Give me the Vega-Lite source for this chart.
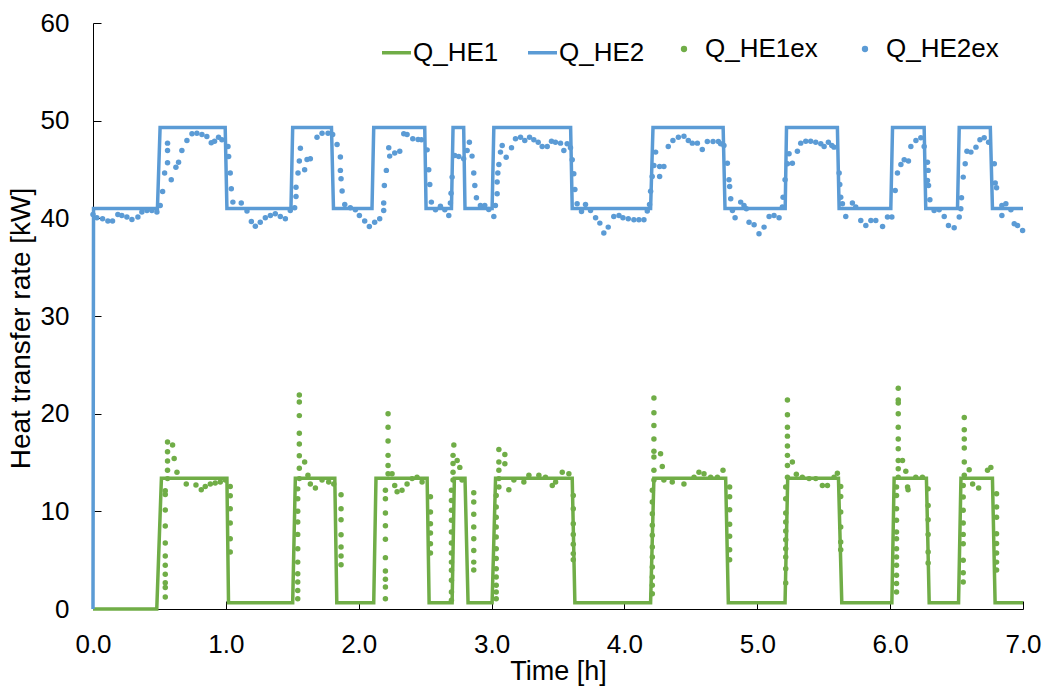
{
"$schema": "https://vega.github.io/schema/vega-lite/v6.json",
"width": 930, "height": 586,
"autosize": {"type": "none"},
"padding": {"left": 93, "top": 23, "right": 23, "bottom": 80},
"background": "white",
"config": {
  "view": {"stroke": null},
  "font": "Liberation Sans",
  "axis": {"grid": false, "domainColor": "black", "tickColor": "black", "labelColor": "black", "titleColor": "black",
    "labelFont": "Liberation Sans", "titleFont": "Liberation Sans", "labelFontSize": 26, "titleFontSize": 27, "titleFontWeight": "normal",
    "tickSize": -8, "labelPadding": 32, "domainWidth": 1, "tickWidth": 1, "labelFlush": false, "labelOverlap": false},
  "legend": {"labelFont": "Liberation Sans", "labelFontSize": 26, "labelColor": "black"}
},
"datasets": {
  "lines": [
    {"t":0,"q":0,"series":"Q_HE1"},{"t":0.48,"q":0,"series":"Q_HE1"},{"t":0.515,"q":13.4,"series":"Q_HE1"},{"t":1.008,"q":13.4,"series":"Q_HE1"},{"t":1.02,"q":0.65,"series":"Q_HE1"},{"t":1.503,"q":0.65,"series":"Q_HE1"},{"t":1.523,"q":13.4,"series":"Q_HE1"},{"t":1.82,"q":13.4,"series":"Q_HE1"},{"t":1.835,"q":0.65,"series":"Q_HE1"},{"t":2.113,"q":0.65,"series":"Q_HE1"},{"t":2.13,"q":13.4,"series":"Q_HE1"},{"t":2.515,"q":13.4,"series":"Q_HE1"},{"t":2.53,"q":0.65,"series":"Q_HE1"},{"t":2.703,"q":0.65,"series":"Q_HE1"},{"t":2.72,"q":13.4,"series":"Q_HE1"},{"t":2.8,"q":13.4,"series":"Q_HE1"},{"t":2.823,"q":0.65,"series":"Q_HE1"},{"t":3.004,"q":0.65,"series":"Q_HE1"},{"t":3.03,"q":13.4,"series":"Q_HE1"},{"t":3.607,"q":13.4,"series":"Q_HE1"},{"t":3.627,"q":0.65,"series":"Q_HE1"},{"t":4.197,"q":0.65,"series":"Q_HE1"},{"t":4.222,"q":13.4,"series":"Q_HE1"},{"t":4.762,"q":13.4,"series":"Q_HE1"},{"t":4.782,"q":0.65,"series":"Q_HE1"},{"t":5.209,"q":0.65,"series":"Q_HE1"},{"t":5.229,"q":13.4,"series":"Q_HE1"},{"t":5.611,"q":13.4,"series":"Q_HE1"},{"t":5.636,"q":0.65,"series":"Q_HE1"},{"t":6.013,"q":0.65,"series":"Q_HE1"},{"t":6.03,"q":13.4,"series":"Q_HE1"},{"t":6.273,"q":13.4,"series":"Q_HE1"},{"t":6.294,"q":0.65,"series":"Q_HE1"},{"t":6.515,"q":0.65,"series":"Q_HE1"},{"t":6.533,"q":13.4,"series":"Q_HE1"},{"t":6.77,"q":13.4,"series":"Q_HE1"},{"t":6.79,"q":0.65,"series":"Q_HE1"},{"t":7.0,"q":0.65,"series":"Q_HE1"},
    {"t":0,"q":0,"series":"Q_HE2"},{"t":0.004,"q":41.0,"series":"Q_HE2"},{"t":0.485,"q":41.0,"series":"Q_HE2"},{"t":0.505,"q":49.3,"series":"Q_HE2"},{"t":0.995,"q":49.3,"series":"Q_HE2"},{"t":1.008,"q":41.0,"series":"Q_HE2"},{"t":1.49,"q":41.0,"series":"Q_HE2"},{"t":1.503,"q":49.3,"series":"Q_HE2"},{"t":1.795,"q":49.3,"series":"Q_HE2"},{"t":1.81,"q":41.0,"series":"Q_HE2"},{"t":2.1,"q":41.0,"series":"Q_HE2"},{"t":2.113,"q":49.3,"series":"Q_HE2"},{"t":2.497,"q":49.3,"series":"Q_HE2"},{"t":2.507,"q":41.0,"series":"Q_HE2"},{"t":2.698,"q":41.0,"series":"Q_HE2"},{"t":2.71,"q":49.3,"series":"Q_HE2"},{"t":2.79,"q":49.3,"series":"Q_HE2"},{"t":2.8,"q":41.0,"series":"Q_HE2"},{"t":3.004,"q":41.0,"series":"Q_HE2"},{"t":3.017,"q":49.3,"series":"Q_HE2"},{"t":3.595,"q":49.3,"series":"Q_HE2"},{"t":3.607,"q":41.0,"series":"Q_HE2"},{"t":4.197,"q":41.0,"series":"Q_HE2"},{"t":4.215,"q":49.3,"series":"Q_HE2"},{"t":4.743,"q":49.3,"series":"Q_HE2"},{"t":4.757,"q":41.0,"series":"Q_HE2"},{"t":5.21,"q":41.0,"series":"Q_HE2"},{"t":5.22,"q":49.3,"series":"Q_HE2"},{"t":5.603,"q":49.3,"series":"Q_HE2"},{"t":5.616,"q":41.0,"series":"Q_HE2"},{"t":6.005,"q":41.0,"series":"Q_HE2"},{"t":6.018,"q":49.3,"series":"Q_HE2"},{"t":6.256,"q":49.3,"series":"Q_HE2"},{"t":6.268,"q":41.0,"series":"Q_HE2"},{"t":6.507,"q":41.0,"series":"Q_HE2"},{"t":6.52,"q":49.3,"series":"Q_HE2"},{"t":6.754,"q":49.3,"series":"Q_HE2"},{"t":6.77,"q":41.0,"series":"Q_HE2"},{"t":7.0,"q":41.0,"series":"Q_HE2"}
  ],
  "points": [
    {"t":0.544,"q":1.23,"pt":"Q_HE1ex"},{"t":0.544,"q":2.2,"pt":"Q_HE1ex"},{"t":0.544,"q":2.7,"pt":"Q_HE1ex"},{"t":0.544,"q":3.55,"pt":"Q_HE1ex"},{"t":0.544,"q":4.47,"pt":"Q_HE1ex"},{"t":0.544,"q":5.43,"pt":"Q_HE1ex"},{"t":0.544,"q":6.76,"pt":"Q_HE1ex"},{"t":0.544,"q":8.5,"pt":"Q_HE1ex"},{"t":0.544,"q":10.13,"pt":"Q_HE1ex"},{"t":0.544,"q":11.73,"pt":"Q_HE1ex"},{"t":0.544,"q":12.1,"pt":"Q_HE1ex"},
    {"t":0.561,"q":13.35,"pt":"Q_HE1ex"},{"t":0.561,"q":14.2,"pt":"Q_HE1ex"},{"t":0.561,"q":15.15,"pt":"Q_HE1ex"},{"t":0.561,"q":16.1,"pt":"Q_HE1ex"},{"t":0.561,"q":17.1,"pt":"Q_HE1ex"},
    {"t":0.599,"q":16.8,"pt":"Q_HE1ex"},{"t":0.611,"q":15.4,"pt":"Q_HE1ex"},{"t":0.632,"q":14.0,"pt":"Q_HE1ex"},{"t":0.702,"q":12.8,"pt":"Q_HE1ex"},{"t":0.775,"q":12.7,"pt":"Q_HE1ex"},{"t":0.815,"q":12.2,"pt":"Q_HE1ex"},{"t":0.845,"q":12.55,"pt":"Q_HE1ex"},{"t":0.883,"q":12.8,"pt":"Q_HE1ex"},{"t":0.92,"q":12.9,"pt":"Q_HE1ex"},{"t":0.958,"q":13.0,"pt":"Q_HE1ex"},{"t":0.996,"q":13.2,"pt":"Q_HE1ex"},
    {"t":1.033,"q":12.55,"pt":"Q_HE1ex"},{"t":1.033,"q":11.6,"pt":"Q_HE1ex"},{"t":1.033,"q":10.27,"pt":"Q_HE1ex"},{"t":1.033,"q":8.8,"pt":"Q_HE1ex"},{"t":1.033,"q":7.2,"pt":"Q_HE1ex"},{"t":1.033,"q":5.84,"pt":"Q_HE1ex"},
    {"t":1.541,"q":1.06,"pt":"Q_HE1ex"},{"t":1.541,"q":1.9,"pt":"Q_HE1ex"},{"t":1.541,"q":2.76,"pt":"Q_HE1ex"},{"t":1.541,"q":3.6,"pt":"Q_HE1ex"},{"t":1.541,"q":4.8,"pt":"Q_HE1ex"},{"t":1.541,"q":6.18,"pt":"Q_HE1ex"},{"t":1.541,"q":7.64,"pt":"Q_HE1ex"},{"t":1.541,"q":8.9,"pt":"Q_HE1ex"},{"t":1.541,"q":10.0,"pt":"Q_HE1ex"},{"t":1.541,"q":11.3,"pt":"Q_HE1ex"},{"t":1.541,"q":12.3,"pt":"Q_HE1ex"},
    {"t":1.553,"q":13.35,"pt":"Q_HE1ex"},{"t":1.553,"q":14.4,"pt":"Q_HE1ex"},{"t":1.553,"q":15.7,"pt":"Q_HE1ex"},{"t":1.553,"q":16.9,"pt":"Q_HE1ex"},{"t":1.553,"q":18.0,"pt":"Q_HE1ex"},{"t":1.553,"q":19.8,"pt":"Q_HE1ex"},{"t":1.553,"q":21.2,"pt":"Q_HE1ex"},{"t":1.553,"q":21.9,"pt":"Q_HE1ex"},
    {"t":1.593,"q":15.05,"pt":"Q_HE1ex"},{"t":1.618,"q":13.7,"pt":"Q_HE1ex"},{"t":1.636,"q":12.8,"pt":"Q_HE1ex"},{"t":1.674,"q":12.4,"pt":"Q_HE1ex"},{"t":1.724,"q":13.2,"pt":"Q_HE1ex"},{"t":1.774,"q":13.0,"pt":"Q_HE1ex"},{"t":1.812,"q":12.8,"pt":"Q_HE1ex"},
    {"t":1.867,"q":11.7,"pt":"Q_HE1ex"},{"t":1.867,"q":10.27,"pt":"Q_HE1ex"},{"t":1.867,"q":9.14,"pt":"Q_HE1ex"},{"t":1.867,"q":7.6,"pt":"Q_HE1ex"},{"t":1.867,"q":6.34,"pt":"Q_HE1ex"},{"t":1.867,"q":5.43,"pt":"Q_HE1ex"},{"t":1.867,"q":4.54,"pt":"Q_HE1ex"},
    {"t":2.201,"q":1.06,"pt":"Q_HE1ex"},{"t":2.201,"q":2.25,"pt":"Q_HE1ex"},{"t":2.201,"q":3.04,"pt":"Q_HE1ex"},{"t":2.201,"q":3.9,"pt":"Q_HE1ex"},{"t":2.201,"q":5.26,"pt":"Q_HE1ex"},{"t":2.201,"q":7.13,"pt":"Q_HE1ex"},{"t":2.201,"q":8.53,"pt":"Q_HE1ex"},{"t":2.201,"q":9.83,"pt":"Q_HE1ex"},{"t":2.201,"q":11.3,"pt":"Q_HE1ex"},{"t":2.201,"q":12.15,"pt":"Q_HE1ex"},
    {"t":2.221,"q":13.85,"pt":"Q_HE1ex"},{"t":2.221,"q":14.7,"pt":"Q_HE1ex"},{"t":2.221,"q":15.73,"pt":"Q_HE1ex"},{"t":2.221,"q":17.2,"pt":"Q_HE1ex"},{"t":2.221,"q":18.6,"pt":"Q_HE1ex"},{"t":2.221,"q":20.0,"pt":"Q_HE1ex"},
    {"t":2.251,"q":13.85,"pt":"Q_HE1ex"},{"t":2.271,"q":12.65,"pt":"Q_HE1ex"},{"t":2.289,"q":12.0,"pt":"Q_HE1ex"},{"t":2.326,"q":12.15,"pt":"Q_HE1ex"},{"t":2.364,"q":12.8,"pt":"Q_HE1ex"},{"t":2.402,"q":13.35,"pt":"Q_HE1ex"},{"t":2.439,"q":13.5,"pt":"Q_HE1ex"},{"t":2.477,"q":13.0,"pt":"Q_HE1ex"},
    {"t":2.54,"q":11.5,"pt":"Q_HE1ex"},{"t":2.54,"q":9.93,"pt":"Q_HE1ex"},{"t":2.54,"q":8.74,"pt":"Q_HE1ex"},{"t":2.54,"q":7.78,"pt":"Q_HE1ex"},{"t":2.54,"q":6.69,"pt":"Q_HE1ex"},{"t":2.54,"q":5.73,"pt":"Q_HE1ex"},
    {"t":2.698,"q":0.9,"pt":"Q_HE1ex"},{"t":2.698,"q":1.75,"pt":"Q_HE1ex"},{"t":2.698,"q":2.94,"pt":"Q_HE1ex"},{"t":2.698,"q":3.96,"pt":"Q_HE1ex"},{"t":2.698,"q":4.8,"pt":"Q_HE1ex"},{"t":2.698,"q":5.73,"pt":"Q_HE1ex"},{"t":2.698,"q":6.75,"pt":"Q_HE1ex"},{"t":2.698,"q":7.88,"pt":"Q_HE1ex"},{"t":2.698,"q":9.08,"pt":"Q_HE1ex"},{"t":2.698,"q":10.1,"pt":"Q_HE1ex"},{"t":2.698,"q":11.1,"pt":"Q_HE1ex"},{"t":2.698,"q":12.15,"pt":"Q_HE1ex"},
    {"t":2.71,"q":13.2,"pt":"Q_HE1ex"},{"t":2.71,"q":14.0,"pt":"Q_HE1ex"},{"t":2.71,"q":14.9,"pt":"Q_HE1ex"},{"t":2.71,"q":15.73,"pt":"Q_HE1ex"},{"t":2.716,"q":16.8,"pt":"Q_HE1ex"},
    {"t":2.741,"q":15.2,"pt":"Q_HE1ex"},{"t":2.761,"q":14.5,"pt":"Q_HE1ex"},{"t":2.778,"q":13.2,"pt":"Q_HE1ex"},
    {"t":2.866,"q":11.9,"pt":"Q_HE1ex"},{"t":2.866,"q":10.95,"pt":"Q_HE1ex"},{"t":2.866,"q":9.7,"pt":"Q_HE1ex"},{"t":2.866,"q":8.4,"pt":"Q_HE1ex"},{"t":2.866,"q":7.2,"pt":"Q_HE1ex"},{"t":2.866,"q":6.0,"pt":"Q_HE1ex"},{"t":2.866,"q":4.8,"pt":"Q_HE1ex"},{"t":2.866,"q":4.0,"pt":"Q_HE1ex"},
    {"t":3.035,"q":1.06,"pt":"Q_HE1ex"},{"t":3.035,"q":1.75,"pt":"Q_HE1ex"},{"t":3.035,"q":2.43,"pt":"Q_HE1ex"},{"t":3.035,"q":3.28,"pt":"Q_HE1ex"},{"t":3.035,"q":4.13,"pt":"Q_HE1ex"},{"t":3.035,"q":5.16,"pt":"Q_HE1ex"},{"t":3.035,"q":6.18,"pt":"Q_HE1ex"},{"t":3.035,"q":7.37,"pt":"Q_HE1ex"},{"t":3.035,"q":8.4,"pt":"Q_HE1ex"},{"t":3.035,"q":9.4,"pt":"Q_HE1ex"},{"t":3.035,"q":10.44,"pt":"Q_HE1ex"},{"t":3.035,"q":11.63,"pt":"Q_HE1ex"},
    {"t":3.055,"q":12.5,"pt":"Q_HE1ex"},{"t":3.055,"q":13.35,"pt":"Q_HE1ex"},{"t":3.055,"q":14.2,"pt":"Q_HE1ex"},{"t":3.055,"q":15.05,"pt":"Q_HE1ex"},{"t":3.055,"q":16.34,"pt":"Q_HE1ex"},
    {"t":3.1,"q":15.83,"pt":"Q_HE1ex"},{"t":3.1,"q":14.88,"pt":"Q_HE1ex"},{"t":3.13,"q":12.2,"pt":"Q_HE1ex"},{"t":3.168,"q":13.2,"pt":"Q_HE1ex"},{"t":3.243,"q":13.0,"pt":"Q_HE1ex"},{"t":3.281,"q":13.7,"pt":"Q_HE1ex"},{"t":3.356,"q":13.7,"pt":"Q_HE1ex"},{"t":3.406,"q":13.5,"pt":"Q_HE1ex"},{"t":3.457,"q":12.65,"pt":"Q_HE1ex"},{"t":3.482,"q":13.0,"pt":"Q_HE1ex"},{"t":3.532,"q":14.0,"pt":"Q_HE1ex"},{"t":3.582,"q":13.85,"pt":"Q_HE1ex"},
    {"t":3.615,"q":11.63,"pt":"Q_HE1ex"},{"t":3.615,"q":10.27,"pt":"Q_HE1ex"},{"t":3.615,"q":8.74,"pt":"Q_HE1ex"},{"t":3.615,"q":7.64,"pt":"Q_HE1ex"},{"t":3.615,"q":6.62,"pt":"Q_HE1ex"},{"t":3.615,"q":5.67,"pt":"Q_HE1ex"},{"t":3.615,"q":5.05,"pt":"Q_HE1ex"},
    {"t":4.21,"q":1.57,"pt":"Q_HE1ex"},{"t":4.21,"q":2.43,"pt":"Q_HE1ex"},{"t":4.21,"q":3.28,"pt":"Q_HE1ex"},{"t":4.21,"q":4.3,"pt":"Q_HE1ex"},{"t":4.21,"q":5.33,"pt":"Q_HE1ex"},{"t":4.21,"q":6.35,"pt":"Q_HE1ex"},{"t":4.21,"q":7.54,"pt":"Q_HE1ex"},{"t":4.21,"q":8.57,"pt":"Q_HE1ex"},{"t":4.21,"q":9.76,"pt":"Q_HE1ex"},{"t":4.21,"q":10.95,"pt":"Q_HE1ex"},{"t":4.21,"q":12.15,"pt":"Q_HE1ex"},
    {"t":4.222,"q":13.2,"pt":"Q_HE1ex"},{"t":4.222,"q":14.2,"pt":"Q_HE1ex"},{"t":4.222,"q":15.56,"pt":"Q_HE1ex"},{"t":4.222,"q":16.15,"pt":"Q_HE1ex"},{"t":4.222,"q":17.4,"pt":"Q_HE1ex"},{"t":4.222,"q":18.8,"pt":"Q_HE1ex"},{"t":4.222,"q":20.1,"pt":"Q_HE1ex"},{"t":4.222,"q":21.6,"pt":"Q_HE1ex"},
    {"t":4.272,"q":15.9,"pt":"Q_HE1ex"},{"t":4.285,"q":14.6,"pt":"Q_HE1ex"},{"t":4.297,"q":13.2,"pt":"Q_HE1ex"},{"t":4.36,"q":13.0,"pt":"Q_HE1ex"},{"t":4.448,"q":12.8,"pt":"Q_HE1ex"},{"t":4.524,"q":13.5,"pt":"Q_HE1ex"},{"t":4.561,"q":14.0,"pt":"Q_HE1ex"},{"t":4.599,"q":13.85,"pt":"Q_HE1ex"},{"t":4.649,"q":13.5,"pt":"Q_HE1ex"},{"t":4.7,"q":13.5,"pt":"Q_HE1ex"},{"t":4.742,"q":14.2,"pt":"Q_HE1ex"},
    {"t":4.792,"q":12.5,"pt":"Q_HE1ex"},{"t":4.792,"q":11.5,"pt":"Q_HE1ex"},{"t":4.792,"q":10.17,"pt":"Q_HE1ex"},{"t":4.792,"q":8.67,"pt":"Q_HE1ex"},{"t":4.792,"q":7.44,"pt":"Q_HE1ex"},{"t":4.792,"q":6.07,"pt":"Q_HE1ex"},{"t":4.792,"q":5.05,"pt":"Q_HE1ex"},
    {"t":5.214,"q":2.66,"pt":"Q_HE1ex"},{"t":5.214,"q":4.13,"pt":"Q_HE1ex"},{"t":5.214,"q":5.33,"pt":"Q_HE1ex"},{"t":5.214,"q":6.18,"pt":"Q_HE1ex"},{"t":5.214,"q":7.1,"pt":"Q_HE1ex"},{"t":5.214,"q":7.98,"pt":"Q_HE1ex"},{"t":5.214,"q":8.9,"pt":"Q_HE1ex"},{"t":5.214,"q":9.83,"pt":"Q_HE1ex"},{"t":5.214,"q":11.3,"pt":"Q_HE1ex"},{"t":5.214,"q":12.5,"pt":"Q_HE1ex"},
    {"t":5.227,"q":13.5,"pt":"Q_HE1ex"},{"t":5.227,"q":14.7,"pt":"Q_HE1ex"},{"t":5.227,"q":15.73,"pt":"Q_HE1ex"},{"t":5.227,"q":16.7,"pt":"Q_HE1ex"},{"t":5.227,"q":17.7,"pt":"Q_HE1ex"},{"t":5.227,"q":18.6,"pt":"Q_HE1ex"},{"t":5.227,"q":19.9,"pt":"Q_HE1ex"},{"t":5.227,"q":21.4,"pt":"Q_HE1ex"},
    {"t":5.264,"q":15.05,"pt":"Q_HE1ex"},{"t":5.294,"q":13.8,"pt":"Q_HE1ex"},{"t":5.339,"q":13.5,"pt":"Q_HE1ex"},{"t":5.39,"q":13.35,"pt":"Q_HE1ex"},{"t":5.44,"q":13.35,"pt":"Q_HE1ex"},{"t":5.49,"q":12.65,"pt":"Q_HE1ex"},{"t":5.528,"q":12.65,"pt":"Q_HE1ex"},{"t":5.578,"q":13.5,"pt":"Q_HE1ex"},{"t":5.603,"q":13.9,"pt":"Q_HE1ex"},
    {"t":5.628,"q":12.55,"pt":"Q_HE1ex"},{"t":5.628,"q":11.53,"pt":"Q_HE1ex"},{"t":5.628,"q":9.93,"pt":"Q_HE1ex"},{"t":5.628,"q":8.4,"pt":"Q_HE1ex"},{"t":5.628,"q":6.86,"pt":"Q_HE1ex"},{"t":5.628,"q":6.07,"pt":"Q_HE1ex"},
    {"t":6.048,"q":1.75,"pt":"Q_HE1ex"},{"t":6.048,"q":2.6,"pt":"Q_HE1ex"},{"t":6.048,"q":3.45,"pt":"Q_HE1ex"},{"t":6.048,"q":4.47,"pt":"Q_HE1ex"},{"t":6.048,"q":5.33,"pt":"Q_HE1ex"},{"t":6.048,"q":6.18,"pt":"Q_HE1ex"},{"t":6.048,"q":7.2,"pt":"Q_HE1ex"},{"t":6.048,"q":7.88,"pt":"Q_HE1ex"},{"t":6.048,"q":9.08,"pt":"Q_HE1ex"},{"t":6.048,"q":10.27,"pt":"Q_HE1ex"},{"t":6.048,"q":11.63,"pt":"Q_HE1ex"},{"t":6.048,"q":12.5,"pt":"Q_HE1ex"},
    {"t":6.061,"q":13.5,"pt":"Q_HE1ex"},{"t":6.061,"q":14.37,"pt":"Q_HE1ex"},{"t":6.061,"q":15.2,"pt":"Q_HE1ex"},{"t":6.061,"q":16.4,"pt":"Q_HE1ex"},{"t":6.061,"q":17.4,"pt":"Q_HE1ex"},{"t":6.061,"q":18.6,"pt":"Q_HE1ex"},{"t":6.061,"q":20.0,"pt":"Q_HE1ex"},{"t":6.061,"q":21.1,"pt":"Q_HE1ex"},{"t":6.061,"q":21.4,"pt":"Q_HE1ex"},{"t":6.061,"q":22.6,"pt":"Q_HE1ex"},
    {"t":6.093,"q":15.2,"pt":"Q_HE1ex"},{"t":6.118,"q":14.1,"pt":"Q_HE1ex"},{"t":6.131,"q":12.5,"pt":"Q_HE1ex"},{"t":6.135,"q":12.2,"pt":"Q_HE1ex"},{"t":6.193,"q":13.5,"pt":"Q_HE1ex"},{"t":6.243,"q":13.5,"pt":"Q_HE1ex"},
    {"t":6.286,"q":12.3,"pt":"Q_HE1ex"},{"t":6.286,"q":10.6,"pt":"Q_HE1ex"},{"t":6.286,"q":9.14,"pt":"Q_HE1ex"},{"t":6.286,"q":7.64,"pt":"Q_HE1ex"},{"t":6.286,"q":5.84,"pt":"Q_HE1ex"},{"t":6.286,"q":4.7,"pt":"Q_HE1ex"},
    {"t":6.55,"q":2.77,"pt":"Q_HE1ex"},{"t":6.55,"q":3.7,"pt":"Q_HE1ex"},{"t":6.55,"q":5.0,"pt":"Q_HE1ex"},{"t":6.55,"q":6.69,"pt":"Q_HE1ex"},{"t":6.55,"q":7.64,"pt":"Q_HE1ex"},{"t":6.55,"q":8.8,"pt":"Q_HE1ex"},{"t":6.55,"q":10.1,"pt":"Q_HE1ex"},{"t":6.55,"q":11.46,"pt":"Q_HE1ex"},{"t":6.55,"q":12.65,"pt":"Q_HE1ex"},
    {"t":6.558,"q":13.7,"pt":"Q_HE1ex"},{"t":6.558,"q":15.05,"pt":"Q_HE1ex"},{"t":6.558,"q":16.48,"pt":"Q_HE1ex"},{"t":6.558,"q":17.4,"pt":"Q_HE1ex"},{"t":6.558,"q":18.35,"pt":"Q_HE1ex"},{"t":6.558,"q":19.6,"pt":"Q_HE1ex"},
    {"t":6.595,"q":14.26,"pt":"Q_HE1ex"},{"t":6.621,"q":12.8,"pt":"Q_HE1ex"},{"t":6.666,"q":12.4,"pt":"Q_HE1ex"},{"t":6.733,"q":14.2,"pt":"Q_HE1ex"},{"t":6.758,"q":14.5,"pt":"Q_HE1ex"},
    {"t":6.801,"q":11.8,"pt":"Q_HE1ex"},{"t":6.801,"q":10.44,"pt":"Q_HE1ex"},{"t":6.801,"q":9.4,"pt":"Q_HE1ex"},{"t":6.801,"q":7.7,"pt":"Q_HE1ex"},{"t":6.801,"q":6.7,"pt":"Q_HE1ex"},{"t":6.801,"q":5.73,"pt":"Q_HE1ex"},{"t":6.801,"q":4.8,"pt":"Q_HE1ex"},{"t":6.801,"q":4.0,"pt":"Q_HE1ex"},

    {"t":0.0,"q":40.4,"pt":"Q_HE2ex"},{"t":0.029,"q":40.06,"pt":"Q_HE2ex"},{"t":0.072,"q":39.96,"pt":"Q_HE2ex"},{"t":0.112,"q":39.72,"pt":"Q_HE2ex"},{"t":0.147,"q":39.72,"pt":"Q_HE2ex"},{"t":0.187,"q":40.4,"pt":"Q_HE2ex"},{"t":0.217,"q":40.3,"pt":"Q_HE2ex"},{"t":0.255,"q":40.13,"pt":"Q_HE2ex"},{"t":0.293,"q":39.89,"pt":"Q_HE2ex"},{"t":0.338,"q":40.13,"pt":"Q_HE2ex"},{"t":0.368,"q":40.64,"pt":"Q_HE2ex"},{"t":0.406,"q":40.81,"pt":"Q_HE2ex"},{"t":0.443,"q":40.81,"pt":"Q_HE2ex"},{"t":0.481,"q":40.64,"pt":"Q_HE2ex"},{"t":0.506,"q":41.32,"pt":"Q_HE2ex"},{"t":0.524,"q":42.75,"pt":"Q_HE2ex"},{"t":0.539,"q":44.63,"pt":"Q_HE2ex"},{"t":0.561,"q":45.69,"pt":"Q_HE2ex"},{"t":0.561,"q":46.95,"pt":"Q_HE2ex"},{"t":0.561,"q":47.7,"pt":"Q_HE2ex"},{"t":0.589,"q":43.95,"pt":"Q_HE2ex"},{"t":0.624,"q":45.24,"pt":"Q_HE2ex"},{"t":0.644,"q":45.75,"pt":"Q_HE2ex"},{"t":0.669,"q":46.95,"pt":"Q_HE2ex"},{"t":0.707,"q":47.97,"pt":"Q_HE2ex"},{"t":0.745,"q":48.65,"pt":"Q_HE2ex"},{"t":0.782,"q":48.72,"pt":"Q_HE2ex"},{"t":0.82,"q":48.59,"pt":"Q_HE2ex"},{"t":0.857,"q":48.38,"pt":"Q_HE2ex"},{"t":0.89,"q":47.73,"pt":"Q_HE2ex"},{"t":0.915,"q":47.9,"pt":"Q_HE2ex"},{"t":0.945,"q":48.31,"pt":"Q_HE2ex"},{"t":0.97,"q":48.04,"pt":"Q_HE2ex"},{"t":1.016,"q":47.36,"pt":"Q_HE2ex"},{"t":1.021,"q":46.33,"pt":"Q_HE2ex"},{"t":1.033,"q":44.63,"pt":"Q_HE2ex"},{"t":1.041,"q":43.02,"pt":"Q_HE2ex"},{"t":1.053,"q":41.66,"pt":"Q_HE2ex"},{"t":1.116,"q":41.56,"pt":"Q_HE2ex"},{"t":1.159,"q":40.74,"pt":"Q_HE2ex"},{"t":1.192,"q":39.68,"pt":"Q_HE2ex"},{"t":1.222,"q":39.2,"pt":"Q_HE2ex"},{"t":1.259,"q":39.61,"pt":"Q_HE2ex"},{"t":1.297,"q":40.06,"pt":"Q_HE2ex"},{"t":1.335,"q":40.3,"pt":"Q_HE2ex"},{"t":1.372,"q":40.47,"pt":"Q_HE2ex"},{"t":1.41,"q":40.19,"pt":"Q_HE2ex"},{"t":1.448,"q":39.96,"pt":"Q_HE2ex"},{"t":1.485,"q":40.81,"pt":"Q_HE2ex"},{"t":1.518,"q":41.08,"pt":"Q_HE2ex"},{"t":1.528,"q":42.24,"pt":"Q_HE2ex"},{"t":1.528,"q":43.19,"pt":"Q_HE2ex"},{"t":1.543,"q":44.63,"pt":"Q_HE2ex"},{"t":1.553,"q":45.86,"pt":"Q_HE2ex"},{"t":1.561,"q":47.18,"pt":"Q_HE2ex"},{"t":1.593,"q":44.97,"pt":"Q_HE2ex"},{"t":1.611,"q":46.03,"pt":"Q_HE2ex"},{"t":1.636,"q":46.09,"pt":"Q_HE2ex"},{"t":1.686,"q":48.31,"pt":"Q_HE2ex"},{"t":1.724,"q":48.72,"pt":"Q_HE2ex"},{"t":1.769,"q":48.72,"pt":"Q_HE2ex"},{"t":1.804,"q":48.59,"pt":"Q_HE2ex"},{"t":1.837,"q":47.56,"pt":"Q_HE2ex"},{"t":1.862,"q":46.28,"pt":"Q_HE2ex"},{"t":1.862,"q":44.91,"pt":"Q_HE2ex"},{"t":1.867,"q":44.06,"pt":"Q_HE2ex"},{"t":1.875,"q":42.79,"pt":"Q_HE2ex"},{"t":1.895,"q":41.42,"pt":"Q_HE2ex"},{"t":1.937,"q":41.08,"pt":"Q_HE2ex"},{"t":1.975,"q":40.88,"pt":"Q_HE2ex"},{"t":2.005,"q":40.3,"pt":"Q_HE2ex"},{"t":2.045,"q":39.72,"pt":"Q_HE2ex"},{"t":2.08,"q":39.17,"pt":"Q_HE2ex"},{"t":2.12,"q":39.61,"pt":"Q_HE2ex"},{"t":2.158,"q":39.96,"pt":"Q_HE2ex"},{"t":2.188,"q":40.81,"pt":"Q_HE2ex"},{"t":2.188,"q":41.56,"pt":"Q_HE2ex"},{"t":2.193,"q":43.37,"pt":"Q_HE2ex"},{"t":2.208,"q":44.91,"pt":"Q_HE2ex"},{"t":2.233,"q":46.37,"pt":"Q_HE2ex"},{"t":2.226,"q":47.22,"pt":"Q_HE2ex"},{"t":2.271,"q":46.68,"pt":"Q_HE2ex"},{"t":2.309,"q":46.88,"pt":"Q_HE2ex"},{"t":2.339,"q":48.65,"pt":"Q_HE2ex"},{"t":2.364,"q":48.59,"pt":"Q_HE2ex"},
    {"t":2.407,"q":48.14,"pt":"Q_HE2ex"},{"t":2.447,"q":48.07,"pt":"Q_HE2ex"},{"t":2.472,"q":48.04,"pt":"Q_HE2ex"},{"t":2.515,"q":47.01,"pt":"Q_HE2ex"},{"t":2.527,"q":44.97,"pt":"Q_HE2ex"},{"t":2.535,"q":43.47,"pt":"Q_HE2ex"},{"t":2.547,"q":41.66,"pt":"Q_HE2ex"},{"t":2.578,"q":40.88,"pt":"Q_HE2ex"},{"t":2.615,"q":41.25,"pt":"Q_HE2ex"},{"t":2.648,"q":40.88,"pt":"Q_HE2ex"},{"t":2.678,"q":40.3,"pt":"Q_HE2ex"},{"t":2.69,"q":41.56,"pt":"Q_HE2ex"},{"t":2.695,"q":42.58,"pt":"Q_HE2ex"},{"t":2.703,"q":44.22,"pt":"Q_HE2ex"},{"t":2.723,"q":46.43,"pt":"Q_HE2ex"},{"t":2.753,"q":46.33,"pt":"Q_HE2ex"},{"t":2.79,"q":46.09,"pt":"Q_HE2ex"},{"t":2.816,"q":46.95,"pt":"Q_HE2ex"},{"t":2.833,"q":47.8,"pt":"Q_HE2ex"},{"t":2.853,"q":46.37,"pt":"Q_HE2ex"},{"t":2.866,"q":44.63,"pt":"Q_HE2ex"},{"t":2.874,"q":43.37,"pt":"Q_HE2ex"},{"t":2.886,"q":42.1,"pt":"Q_HE2ex"},{"t":2.916,"q":41.32,"pt":"Q_HE2ex"},{"t":2.949,"q":41.32,"pt":"Q_HE2ex"},{"t":2.979,"q":40.91,"pt":"Q_HE2ex"},{"t":3.017,"q":40.19,"pt":"Q_HE2ex"},{"t":3.029,"q":41.32,"pt":"Q_HE2ex"},{"t":3.042,"q":42.51,"pt":"Q_HE2ex"},{"t":3.042,"q":43.71,"pt":"Q_HE2ex"},{"t":3.047,"q":44.63,"pt":"Q_HE2ex"},{"t":3.055,"q":45.52,"pt":"Q_HE2ex"},{"t":3.067,"q":46.78,"pt":"Q_HE2ex"},{"t":3.08,"q":47.46,"pt":"Q_HE2ex"},{"t":3.11,"q":46.26,"pt":"Q_HE2ex"},{"t":3.15,"q":47.22,"pt":"Q_HE2ex"},{"t":3.18,"q":48.14,"pt":"Q_HE2ex"},{"t":3.218,"q":48.31,"pt":"Q_HE2ex"},{"t":3.25,"q":47.97,"pt":"Q_HE2ex"},{"t":3.286,"q":48.31,"pt":"Q_HE2ex"},{"t":3.318,"q":48.04,"pt":"Q_HE2ex"},{"t":3.351,"q":47.8,"pt":"Q_HE2ex"},{"t":3.381,"q":47.36,"pt":"Q_HE2ex"},{"t":3.419,"q":47.36,"pt":"Q_HE2ex"},{"t":3.451,"q":47.9,"pt":"Q_HE2ex"},{"t":3.481,"q":47.8,"pt":"Q_HE2ex"},{"t":3.519,"q":47.7,"pt":"Q_HE2ex"},{"t":3.544,"q":46.95,"pt":"Q_HE2ex"},{"t":3.569,"q":47.63,"pt":"Q_HE2ex"},{"t":3.594,"q":47.22,"pt":"Q_HE2ex"},{"t":3.607,"q":45.99,"pt":"Q_HE2ex"},{"t":3.619,"q":44.56,"pt":"Q_HE2ex"},{"t":3.627,"q":42.95,"pt":"Q_HE2ex"},{"t":3.644,"q":41.49,"pt":"Q_HE2ex"},{"t":3.677,"q":40.71,"pt":"Q_HE2ex"},{"t":3.707,"q":41.42,"pt":"Q_HE2ex"},{"t":3.745,"q":40.81,"pt":"Q_HE2ex"},{"t":3.783,"q":40.06,"pt":"Q_HE2ex"},{"t":3.815,"q":39.51,"pt":"Q_HE2ex"},{"t":3.845,"q":38.49,"pt":"Q_HE2ex"},{"t":3.878,"q":39.1,"pt":"Q_HE2ex"},{"t":3.92,"q":40.19,"pt":"Q_HE2ex"},{"t":3.959,"q":40.3,"pt":"Q_HE2ex"},{"t":3.989,"q":40.06,"pt":"Q_HE2ex"},{"t":4.029,"q":39.96,"pt":"Q_HE2ex"},{"t":4.071,"q":39.85,"pt":"Q_HE2ex"},{"t":4.109,"q":39.85,"pt":"Q_HE2ex"},{"t":4.147,"q":39.85,"pt":"Q_HE2ex"},{"t":4.172,"q":40.74,"pt":"Q_HE2ex"},{"t":4.189,"q":41.42,"pt":"Q_HE2ex"},{"t":4.197,"q":42.78,"pt":"Q_HE2ex"},{"t":4.209,"q":44.29,"pt":"Q_HE2ex"},{"t":4.222,"q":45.41,"pt":"Q_HE2ex"},{"t":4.235,"q":46.78,"pt":"Q_HE2ex"},{"t":4.265,"q":44.29,"pt":"Q_HE2ex"},{"t":4.265,"q":45.31,"pt":"Q_HE2ex"},{"t":4.297,"q":45.31,"pt":"Q_HE2ex"},{"t":4.33,"q":47.36,"pt":"Q_HE2ex"},{"t":4.365,"q":47.97,"pt":"Q_HE2ex"},{"t":4.406,"q":48.31,"pt":"Q_HE2ex"},{"t":4.448,"q":48.41,"pt":"Q_HE2ex"},{"t":4.481,"q":47.97,"pt":"Q_HE2ex"},{"t":4.511,"q":47.7,"pt":"Q_HE2ex"},{"t":4.549,"q":47.7,"pt":"Q_HE2ex"},{"t":4.586,"q":47.05,"pt":"Q_HE2ex"},{"t":4.624,"q":47.87,"pt":"Q_HE2ex"},{"t":4.667,"q":47.87,"pt":"Q_HE2ex"},{"t":4.707,"q":47.87,"pt":"Q_HE2ex"},
    {"t":4.724,"q":47.63,"pt":"Q_HE2ex"},{"t":4.749,"q":47.46,"pt":"Q_HE2ex"},{"t":4.775,"q":45.65,"pt":"Q_HE2ex"},{"t":4.787,"q":43.95,"pt":"Q_HE2ex"},{"t":4.792,"q":43.27,"pt":"Q_HE2ex"},{"t":4.8,"q":42.0,"pt":"Q_HE2ex"},{"t":4.813,"q":40.81,"pt":"Q_HE2ex"},{"t":4.833,"q":40.06,"pt":"Q_HE2ex"},{"t":4.875,"q":41.66,"pt":"Q_HE2ex"},{"t":4.9,"q":41.32,"pt":"Q_HE2ex"},{"t":4.918,"q":40.98,"pt":"Q_HE2ex"},{"t":4.938,"q":39.61,"pt":"Q_HE2ex"},{"t":4.976,"q":39.34,"pt":"Q_HE2ex"},{"t":5.013,"q":38.42,"pt":"Q_HE2ex"},{"t":5.051,"q":39.1,"pt":"Q_HE2ex"},{"t":5.089,"q":40.19,"pt":"Q_HE2ex"},{"t":5.126,"q":40.3,"pt":"Q_HE2ex"},{"t":5.164,"q":40.06,"pt":"Q_HE2ex"},{"t":5.189,"q":41.15,"pt":"Q_HE2ex"},{"t":5.194,"q":42.17,"pt":"Q_HE2ex"},{"t":5.209,"q":43.95,"pt":"Q_HE2ex"},{"t":5.227,"q":45.58,"pt":"Q_HE2ex"},{"t":5.239,"q":46.61,"pt":"Q_HE2ex"},{"t":5.264,"q":45.65,"pt":"Q_HE2ex"},{"t":5.302,"q":46.88,"pt":"Q_HE2ex"},{"t":5.327,"q":47.7,"pt":"Q_HE2ex"},{"t":5.365,"q":47.9,"pt":"Q_HE2ex"},{"t":5.402,"q":47.9,"pt":"Q_HE2ex"},{"t":5.44,"q":47.8,"pt":"Q_HE2ex"},{"t":5.478,"q":47.63,"pt":"Q_HE2ex"},{"t":5.503,"q":47.36,"pt":"Q_HE2ex"},{"t":5.535,"q":47.8,"pt":"Q_HE2ex"},{"t":5.561,"q":47.46,"pt":"Q_HE2ex"},{"t":5.578,"q":47.29,"pt":"Q_HE2ex"},{"t":5.616,"q":44.63,"pt":"Q_HE2ex"},{"t":5.621,"q":43.47,"pt":"Q_HE2ex"},{"t":5.628,"q":42.17,"pt":"Q_HE2ex"},{"t":5.641,"q":41.49,"pt":"Q_HE2ex"},{"t":5.666,"q":40.19,"pt":"Q_HE2ex"},{"t":5.716,"q":41.56,"pt":"Q_HE2ex"},{"t":5.741,"q":41.15,"pt":"Q_HE2ex"},{"t":5.779,"q":39.78,"pt":"Q_HE2ex"},{"t":5.817,"q":39.27,"pt":"Q_HE2ex"},{"t":5.855,"q":39.78,"pt":"Q_HE2ex"},{"t":5.892,"q":39.78,"pt":"Q_HE2ex"},{"t":5.943,"q":39.17,"pt":"Q_HE2ex"},{"t":5.98,"q":40.13,"pt":"Q_HE2ex"},{"t":6.013,"q":40.13,"pt":"Q_HE2ex"},{"t":6.038,"q":42.85,"pt":"Q_HE2ex"},{"t":6.055,"q":44.63,"pt":"Q_HE2ex"},{"t":6.081,"q":45.52,"pt":"Q_HE2ex"},{"t":6.106,"q":45.99,"pt":"Q_HE2ex"},{"t":6.138,"q":45.86,"pt":"Q_HE2ex"},{"t":6.156,"q":47.36,"pt":"Q_HE2ex"},{"t":6.194,"q":47.97,"pt":"Q_HE2ex"},{"t":6.231,"q":48.24,"pt":"Q_HE2ex"},{"t":6.256,"q":47.36,"pt":"Q_HE2ex"},{"t":6.281,"q":45.75,"pt":"Q_HE2ex"},{"t":6.286,"q":44.91,"pt":"Q_HE2ex"},{"t":6.281,"q":43.88,"pt":"Q_HE2ex"},{"t":6.289,"q":43.37,"pt":"Q_HE2ex"},{"t":6.299,"q":41.9,"pt":"Q_HE2ex"},{"t":6.331,"q":40.81,"pt":"Q_HE2ex"},{"t":6.369,"q":40.88,"pt":"Q_HE2ex"},{"t":6.407,"q":40.19,"pt":"Q_HE2ex"},{"t":6.439,"q":39.27,"pt":"Q_HE2ex"},{"t":6.482,"q":39.03,"pt":"Q_HE2ex"},{"t":6.52,"q":40.13,"pt":"Q_HE2ex"},{"t":6.532,"q":40.98,"pt":"Q_HE2ex"},{"t":6.537,"q":42.1,"pt":"Q_HE2ex"},{"t":6.55,"q":44.22,"pt":"Q_HE2ex"},{"t":6.565,"q":45.58,"pt":"Q_HE2ex"},{"t":6.578,"q":46.88,"pt":"Q_HE2ex"},{"t":6.608,"q":46.78,"pt":"Q_HE2ex"},{"t":6.646,"q":47.29,"pt":"Q_HE2ex"},{"t":6.676,"q":48.04,"pt":"Q_HE2ex"},{"t":6.708,"q":48.24,"pt":"Q_HE2ex"},{"t":6.741,"q":47.8,"pt":"Q_HE2ex"},{"t":6.784,"q":45.58,"pt":"Q_HE2ex"},{"t":6.791,"q":43.61,"pt":"Q_HE2ex"},{"t":6.801,"q":43.13,"pt":"Q_HE2ex"},{"t":6.841,"q":41.32,"pt":"Q_HE2ex"},{"t":6.841,"q":40.3,"pt":"Q_HE2ex"},{"t":6.871,"q":41.49,"pt":"Q_HE2ex"},{"t":6.909,"q":40.88,"pt":"Q_HE2ex"},{"t":6.934,"q":39.44,"pt":"Q_HE2ex"},{"t":6.959,"q":39.27,"pt":"Q_HE2ex"},{"t":6.997,"q":38.76,"pt":"Q_HE2ex"}
  ]
},
"encoding": {
  "x": {"field": "t", "type": "quantitative", "scale": {"domain": [0, 7], "nice": false, "zero": false},
    "axis": {"values": [0,1,2,3,4,5,6,7], "format": ".1f", "labelPadding": 30, "title": "Time [h]", "titleX": 465, "titleY": 70, "titleBaseline": "alphabetic", "titleAlign": "center"}},
  "y": {"field": "q", "type": "quantitative", "scale": {"domain": [0, 60], "nice": false},
    "axis": {"values": [0,10,20,30,40,50,60], "format": "d", "title": "Heat transfer rate [kW]", "titleFontSize": 28, "titleX": -72, "titleY": 305, "titleAngle": -90, "titleBaseline": "middle", "titleAlign": "center"}}
},
"layer": [
  {"data": {"name": "lines"},
   "mark": {"type": "line", "strokeWidth": 3.5, "strokeJoin": "miter"},
   "encoding": {"stroke": {"field": "series", "type": "nominal",
     "scale": {"domain": ["Q_HE1", "Q_HE2"], "range": ["#70AD47", "#5B9BD5"]},
     "legend": {"title": null, "orient": "none", "legendX": 287, "legendY": 13, "direction": "horizontal", "columns": 2,
       "symbolType": "stroke", "symbolSize": 841, "symbolStrokeWidth": 3.5, "columnPadding": 22, "labelOffset": 0}}}},
  {"data": {"name": "points"},
   "mark": {"type": "circle", "size": 30, "opacity": 1},
   "encoding": {"fill": {"field": "pt", "type": "nominal",
     "scale": {"domain": ["Q_HE1ex", "Q_HE2ex"], "range": ["#70AD47", "#5B9BD5"]},
     "legend": {"title": null, "orient": "none", "legendX": 578, "legendY": 13, "direction": "horizontal", "columns": 2,
       "symbolType": "circle", "symbolSize": 40, "symbolStrokeWidth": 0, "symbolOpacity": 1, "columnPadding": 34, "labelOffset": 8}}}}
]
}
